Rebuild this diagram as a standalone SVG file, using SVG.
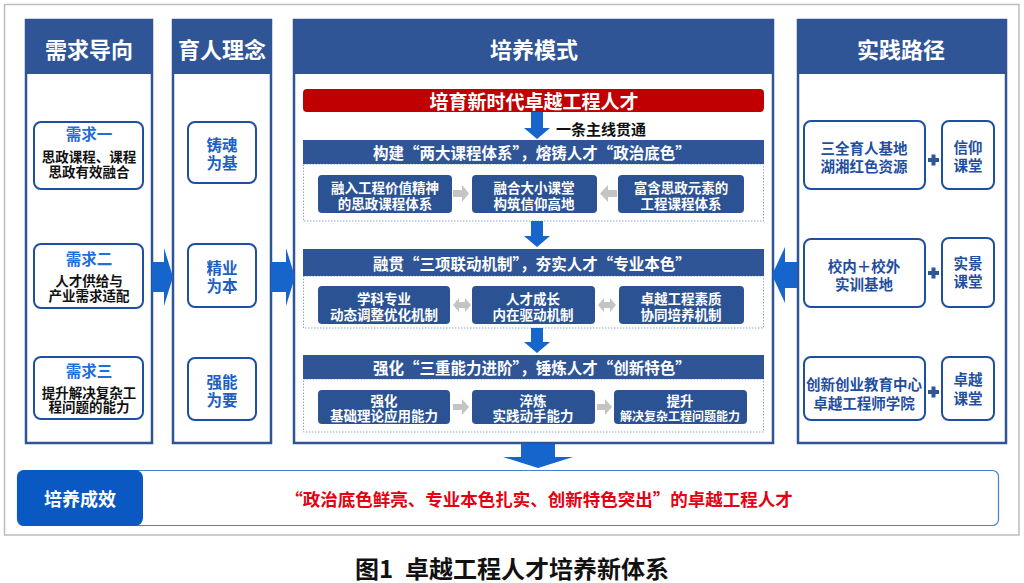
<svg xmlns="http://www.w3.org/2000/svg" width="1024" height="583" viewBox="0 0 1024 583">
<style>
text{font-family:"Noto Sans CJK SC","Noto Sans",sans-serif;font-weight:700;text-anchor:middle;dominant-baseline:central}
.col{fill:#fff;stroke:#2F5597;stroke-width:2.5}
.hdr{fill:#2F5597}
.htxt{fill:#fff;font-size:22px}
.box{fill:#fff;stroke:#1F4FA0;stroke-width:2}
.lbl{fill:#1E6FD9;font-size:15.5px}
.blk{fill:#111;font-size:13.5px}
.ble{fill:#1F5FBF;font-size:15.5px}
.rtx{fill:#1F4E9F;font-size:14.5px}
.sec{fill:#2F5597}
.stxt{fill:#fff;font-size:15.5px}
.body{fill:#fff;stroke:#8FA8D0;stroke-width:1;stroke-dasharray:1.5 1.5}
.ibox{fill:#2B5394}
.itxt{fill:#fff;font-size:13.5px}
.barrow{fill:#1565CC}
.garrow{fill:#C4C4C4}
.plus{fill:#2F5597}
</style>
<rect x="0" y="0" width="1024" height="583" fill="#fff"/>
<rect x="4.5" y="4.5" width="1014.5" height="530.5" fill="#fff" stroke="#BDBDBD" stroke-width="1.5"/>

<!-- Column 1 -->
<g id="col-demand">
<rect class="col" x="26" y="20" width="126" height="423"/>
<rect class="hdr" x="25" y="19" width="128" height="55"/>
<text class="htxt" x="89" y="48">需求导向</text>
</g>
<g id="demand-1">
<rect class="box" x="34" y="122" width="109" height="67" rx="7"/>
<text class="lbl" x="89" y="133">需求一</text>
<text class="blk" x="89" y="156"><tspan x="89" y="156">思政课程、课程</tspan><tspan x="89" y="171">思政有效融合</tspan></text>
</g>
<g id="demand-2">
<rect class="box" x="34" y="244" width="109" height="64" rx="7"/>
<text class="lbl" x="89" y="258">需求二</text>
<text class="blk" x="89" y="280"><tspan x="89" y="280">人才供给与</tspan><tspan x="89" y="295">产业需求适配</tspan></text>
</g>
<g id="demand-3">
<rect class="box" x="34" y="357" width="109" height="62" rx="7"/>
<text class="lbl" x="89" y="370">需求三</text>
<text class="blk" x="89" y="392"><tspan x="89" y="392">提升解决复杂工</tspan><tspan x="89" y="406">程问题的能力</tspan></text>
</g>

<!-- Column 2 -->
<g id="col-concept">
<rect class="col" x="173" y="20" width="98" height="423"/>
<rect class="hdr" x="172" y="19" width="100" height="55"/>
<text class="htxt" x="222" y="48">育人理念</text>
</g>
<g id="concept-1">
<rect class="box" x="188" y="122" width="68" height="61" rx="7"/>
<text class="ble" x="222" y="144"><tspan x="222" y="144">铸魂</tspan><tspan x="222" y="162">为基</tspan></text>
</g>
<g id="concept-2">
<rect class="box" x="188" y="244" width="68" height="63" rx="7"/>
<text class="ble" x="222" y="267"><tspan x="222" y="267">精业</tspan><tspan x="222" y="285">为本</tspan></text>
</g>
<g id="concept-3">
<rect class="box" x="188" y="358" width="68" height="62" rx="7"/>
<text class="ble" x="222" y="381"><tspan x="222" y="381">强能</tspan><tspan x="222" y="399">为要</tspan></text>
</g>

<!-- Column 3 -->
<g id="col-mode">
<rect class="col" x="294" y="20" width="479" height="423"/>
<rect class="hdr" x="293" y="19" width="481" height="55"/>
<text class="htxt" x="534" y="48">培养模式</text>
</g>
<g id="goal">
<rect x="303" y="89" width="461" height="23" rx="4" fill="#C00000"/>
<text x="534" y="100" fill="#fff" font-size="19px">培育新时代卓越工程人才</text>
</g>
<g id="mainline-label">
<text x="556" y="128" fill="#111" font-size="15px" style="text-anchor:start">一条主线贯通</text>
</g>

<g id="section-1">
<rect class="body" x="303.5" y="164" width="460" height="57"/>
<rect class="sec" x="303" y="140" width="461" height="24"/>
<text class="stxt" x="532" y="152">构建“两大课程体系”，熔铸人才“政治底色”</text>
<rect class="ibox" x="318" y="175" width="134" height="38" rx="4"/>
<text class="itxt" x="385" y="187"><tspan x="385" y="187">融入工程价值精神</tspan><tspan x="385" y="203">的思政课程体系</tspan></text>
<rect class="ibox" x="472" y="175" width="125" height="38" rx="4"/>
<text class="itxt" x="534" y="187"><tspan x="534" y="187">融合大小课堂</tspan><tspan x="534" y="203">构筑信仰高地</tspan></text>
<rect class="ibox" x="618" y="175" width="126" height="38" rx="4"/>
<text class="itxt" x="681" y="187"><tspan x="681" y="187">富含思政元素的</tspan><tspan x="681" y="203">工程课程体系</tspan></text>
</g>

<g id="section-2">
<rect class="body" x="303.5" y="276" width="460" height="52"/>
<rect class="sec" x="303" y="249" width="461" height="27"/>
<text class="stxt" x="532" y="263">融贯“三项联动机制”，夯实人才“专业本色”</text>
<rect class="ibox" x="318" y="286" width="132" height="38" rx="4"/>
<text class="itxt" x="384" y="298"><tspan x="384" y="298">学科专业</tspan><tspan x="384" y="314">动态调整优化机制</tspan></text>
<rect class="ibox" x="472" y="286" width="123" height="38" rx="4"/>
<text class="itxt" x="533" y="298"><tspan x="533" y="298">人才成长</tspan><tspan x="533" y="314">内在驱动机制</tspan></text>
<rect class="ibox" x="619" y="286" width="125" height="38" rx="4"/>
<text class="itxt" x="681" y="298"><tspan x="681" y="298">卓越工程素质</tspan><tspan x="681" y="314">协同培养机制</tspan></text>
</g>

<g id="section-3">
<rect class="body" x="303.5" y="379" width="460" height="53"/>
<rect class="sec" x="303" y="355" width="461" height="24"/>
<text class="stxt" x="532" y="367">强化“三重能力进阶”，锤炼人才“创新特色”</text>
<rect class="ibox" x="318" y="390" width="132" height="34" rx="4"/>
<text class="itxt" x="384" y="400"><tspan x="384" y="400">强化</tspan><tspan x="384" y="415">基础理论应用能力</tspan></text>
<rect class="ibox" x="472" y="390" width="123" height="34" rx="4"/>
<text class="itxt" x="533" y="400"><tspan x="533" y="400">淬炼</tspan><tspan x="533" y="415">实践动手能力</tspan></text>
<rect class="ibox" x="614" y="390" width="133" height="34" rx="4"/>
<text class="itxt" x="680" y="400"><tspan x="680" y="400">提升</tspan><tspan x="680" y="415" font-size="12px">解决复杂工程问题能力</tspan></text>
</g>

<!-- Column 4 -->
<g id="col-practice">
<rect class="col" x="798" y="20" width="208" height="423"/>
<rect class="hdr" x="797" y="19" width="210" height="55"/>
<text class="htxt" x="901" y="48">实践路径</text>
</g>
<g id="practice-1">
<rect class="box" x="804" y="121" width="121" height="68" rx="7"/>
<text class="rtx" x="864" y="147"><tspan x="864" y="147">三全育人基地</tspan><tspan x="864" y="165">湖湘红色资源</tspan></text>
<rect class="plus" x="928" y="158" width="11" height="4"/>
<rect class="plus" x="931.5" y="154.5" width="4" height="11"/>
<rect class="box" x="942" y="121" width="52" height="68" rx="7"/>
<text class="rtx" x="968" y="146"><tspan x="968" y="146">信仰</tspan><tspan x="968" y="164">课堂</tspan></text>
</g>
<g id="practice-2">
<rect class="box" x="804" y="239" width="121" height="68" rx="7"/>
<text class="rtx" x="864" y="265"><tspan x="864" y="265">校内＋校外</tspan><tspan x="864" y="283">实训基地</tspan></text>
<rect class="plus" x="928" y="271" width="11" height="4"/>
<rect class="plus" x="931.5" y="267.5" width="4" height="11"/>
<rect class="box" x="942" y="238" width="52" height="69" rx="7"/>
<text class="rtx" x="968" y="262"><tspan x="968" y="262">实景</tspan><tspan x="968" y="280">课堂</tspan></text>
</g>
<g id="practice-3">
<rect class="box" x="804" y="357" width="121" height="63" rx="7"/>
<text class="rtx" x="864" y="383"><tspan x="864" y="383">创新创业教育中心</tspan><tspan x="864" y="402">卓越工程师学院</tspan></text>
<rect class="plus" x="928" y="390" width="11" height="4"/>
<rect class="plus" x="931.5" y="386.5" width="4" height="11"/>
<rect class="box" x="942" y="357" width="52" height="63" rx="7"/>
<text class="rtx" x="968" y="378"><tspan x="968" y="378">卓越</tspan><tspan x="968" y="397">课堂</tspan></text>
</g>

<!-- Result bar -->
<g id="result">
<rect x="17.5" y="470.5" width="981" height="55" rx="6" fill="#fff" stroke="#4A7FD0" stroke-width="1.2"/>
<rect x="17" y="470" width="126" height="56" rx="8" fill="#0A58C2"/>
<text x="80" y="498" fill="#fff" font-size="18px">培养成效</text>
<text x="539" y="498" fill="#E50012" font-size="17.5px">“政治底色鲜亮、专业本色扎实、创新特色突出”的卓越工程人才</text>
</g>

<!-- Connectors -->
<g id="connectors">
<polygon class="barrow" points="152,262 164,262 164,248 173,277 164,306 164,292 152,292"/>
<polygon class="barrow" points="271,262 286,262 286,248 295,277 286,306 286,292 271,292"/>
<polygon class="barrow" points="797,262 785,262 785,247 772,275 785,303 785,288 797,288"/>
<polygon class="barrow" points="531,112 543,112 543,128 550,128 537,139 524,128 531,128"/>
<polygon class="barrow" points="531,221 543,221 543,236 550,236 537,247 524,236 531,236"/>
<polygon class="barrow" points="531,328 543,328 543,342 550,342 537,353 524,342 531,342"/>
<polygon class="barrow" points="521,444 555,444 555,457 573,457 538,468 503,457 521,457"/>
<polygon class="garrow" points="453,190 462,190 462,185 469,193.5 462,202 462,197 453,197"/>
<polygon class="garrow" points="617,190 608,190 608,185 600,193.5 608,202 608,197 617,197"/>
<polygon class="garrow" points="459,302 465,302 465,298 471,305 465,312 465,308 459,308 459,312 453,305 459,298"/>
<polygon class="garrow" points="604,302 610,302 610,298 616,305 610,312 610,308 604,308 604,312 598,305 604,298"/>
<polygon class="garrow" points="453,404 462,404 462,399 469,407 462,415 462,410 453,410"/>
<polygon class="garrow" points="597,404 605,404 605,399 612,407 605,415 605,410 597,410"/>
</g>

<g id="caption">
<text x="512" y="567" fill="#111" font-size="24px">图1<tspan dx="12">卓越工程人才培养新体系</tspan></text>
</g>
</svg>
